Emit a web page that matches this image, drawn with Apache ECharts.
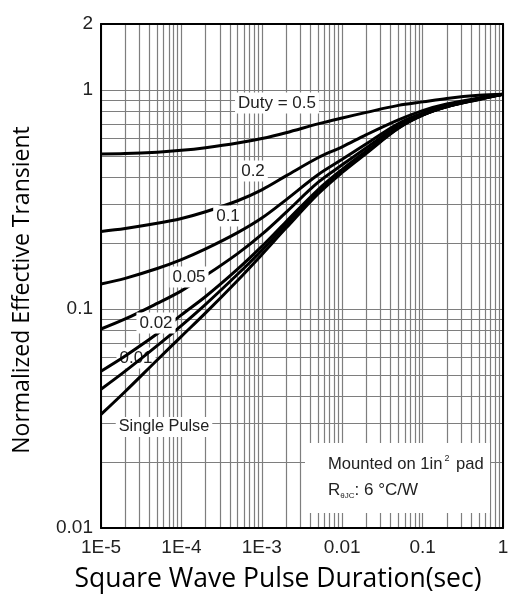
<!DOCTYPE html>
<html>
<head>
<meta charset="utf-8">
<script src="https://cdn.jsdelivr.net/npm/echarts@6/dist/echarts.min.js"></script>
<style>
  html, body { margin: 0; padding: 0; background: #fff; }
  #chart { width: 514px; height: 602px; }
</style>
</head>
<body>
<div id="chart"></div>
<script>
// pulse duration (sec)
var pulseTimes = [1e-5, 2e-5, 5e-5, 1e-4, 2e-4, 5e-4, 1e-3, 2e-3, 5e-3, 1e-2, 2e-2, 5e-2, 0.1, 0.2, 0.5, 1];

// normalized effective transient thermal impedance
var duty05 = [0.51, 0.512, 0.52, 0.53, 0.545, 0.572, 0.60, 0.638, 0.70, 0.745, 0.79, 0.85, 0.882, 0.915, 0.945, 0.955];
var duty02 = [0.226, 0.233, 0.246, 0.259, 0.278, 0.312, 0.35, 0.405, 0.49, 0.55, 0.625, 0.73, 0.805, 0.862, 0.92, 0.955];
var duty01 = [0.13, 0.138, 0.153, 0.168, 0.188, 0.223, 0.26, 0.315, 0.41, 0.482, 0.568, 0.703, 0.784, 0.847, 0.91, 0.955];
var duty005 = [0.081, 0.09, 0.106, 0.121, 0.142, 0.179, 0.219, 0.276, 0.378, 0.455, 0.545, 0.687, 0.772, 0.84, 0.905, 0.955];
var duty002 = [0.052, 0.061, 0.077, 0.094, 0.114, 0.152, 0.193, 0.25, 0.35, 0.434, 0.527, 0.676, 0.77, 0.838, 0.905, 0.955];
var duty001 = [0.043, 0.052, 0.068, 0.084, 0.105, 0.144, 0.185, 0.242, 0.342, 0.427, 0.52, 0.671, 0.768, 0.84, 0.91, 0.955];
var singlePulse = [0.033, 0.042, 0.0585, 0.075, 0.096, 0.135, 0.177, 0.234, 0.335, 0.42, 0.514, 0.668, 0.767, 0.84, 0.912, 0.955];

var xTickValues = [1e-5, 1e-4, 1e-3, 1e-2, 0.1, 1];
var xTickLabels = ['1E-5', '1E-4', '1E-3', '0.01', '0.1', '1'];
var yTickValues = [0.01, 0.1, 1, 2];
var yTickLabels = ['0.01', '0.1', '1', '2'];

// log grid lines: 1..9 in every decade
function logGrid(fromExp, toExp) {
    var out = [];
    for (var e = fromExp; e < toExp; e++) {
        for (var m = 1; m < 10; m++) {
            out.push(+(m * Math.pow(10, e)).toPrecision(3));
        }
    }
    out.push(Math.pow(10, toExp));
    return out;
}
var xGrid = logGrid(-5, 0);
var yGrid = logGrid(-2, 0);

var chart = echarts.init(document.getElementById('chart'));

var gridColor = '#7e7e7e';
var labelFont = '"Liberation Sans", Arial, sans-serif';

function curve(values) {
    return {
        type: 'line',
        data: pulseTimes.map(function (t, i) { return [t, values[i]]; }),
        showSymbol: false,
        smooth: 0.35,
        lineStyle: { color: '#000', width: 3 },
        z: 3
    };
}

function tag(text, x, y, size, z) {
    return {
        type: 'text',
        x: x,
        y: y,
        z: z || 10,
        style: {
            text: text,
            font: size + 'px ' + labelFont,
            fill: '#222',
            align: 'center',
            verticalAlign: 'middle',
            backgroundColor: '#fff',
            padding: [2, 3]
        }
    };
}

var option = {
    animation: false,
    backgroundColor: '#fff',
    grid: {
        left: 101,
        right: 11,
        top: 24,
        bottom: 74
    },
    xAxis: [{
        type: 'log',
        min: 1e-5,
        max: 1,
        name: 'Square Wave Pulse Duration(sec)',
        nameLocation: 'middle',
        nameGap: 38,
        nameTextStyle: {
            fontFamily: '"Open Sans", sans-serif',
            fontSize: 26.5,
            color: '#000',
            padding: [0, 48, 0, 0]
        },
        axisLine: { show: true, lineStyle: { color: '#000', width: 2 } },
        axisTick: { show: false, customValues: xGrid },
        axisLabel: {
            customValues: xTickValues,
            fontFamily: labelFont,
            fontSize: 19,
            color: '#222',
            margin: 10,
            formatter: function (v) {
                return xTickLabels[Math.round(Math.log10(v)) + 5];
            }
        },
        splitLine: { show: true, lineStyle: { color: gridColor, width: 1.2 } }
    }, {
        type: 'log',
        min: 1e-5,
        max: 1,
        position: 'top',
        axisLine: { show: true, onZero: false, lineStyle: { color: '#000', width: 2 } },
        axisTick: { show: false },
        axisLabel: { show: false },
        splitLine: { show: false }
    }],
    yAxis: [{
        type: 'log',
        min: 0.01,
        max: 2,
        name: 'Normalized Effective Transient',
        nameLocation: 'middle',
        nameGap: 67,
        nameTextStyle: {
            fontFamily: '"Open Sans", sans-serif',
            fontSize: 23,
            color: '#000',
            padding: [0, 28, 0, 0]
        },
        axisLine: { show: true, lineStyle: { color: '#000', width: 2 } },
        axisTick: { show: false, customValues: yGrid },
        axisLabel: {
            customValues: yTickValues,
            fontFamily: labelFont,
            fontSize: 19,
            color: '#222',
            margin: 8,
            formatter: function (v) {
                return yTickLabels[yTickValues.indexOf(v)] || '';
            }
        },
        splitLine: { show: true, lineStyle: { color: gridColor, width: 1.2 } }
    }, {
        type: 'log',
        min: 0.01,
        max: 2,
        position: 'right',
        axisLine: { show: true, onZero: false, lineStyle: { color: '#000', width: 2 } },
        axisTick: { show: false },
        axisLabel: { show: false },
        splitLine: { show: false }
    }],
    series: [
        curve(duty05),
        curve(duty02),
        curve(duty01),
        curve(duty005),
        curve(duty002),
        curve(duty001),
        curve(singlePulse)
    ],
    graphic: [
        {
            type: 'rect',
            z: 1,
            shape: { x: 305, y: 443, width: 185, height: 70 },
            style: { fill: '#fff' }
        },
        tag('Duty = 0.5', 277, 103, 17),
        tag('0.2', 253, 171, 17),
        tag('0.1', 228, 216, 17),
        tag('0.05', 189, 277, 17),
        tag('0.02', 156, 323, 17),
        tag('0.01', 136, 358, 17, 1),
        tag('Single Pulse', 164, 427, 16.3),
        {
            type: 'text',
            x: 328,
            y: 464,
            z: 10,
            style: {
                text: '{t|Mounted on 1in}{s|2}{t| pad}',
                verticalAlign: 'middle',
                rich: {
                    t: { font: '16.6px ' + labelFont, fill: '#222' },
                    s: { font: '9px ' + labelFont, fill: '#222', verticalAlign: 'top', padding: [0, 2, 10, 2] }
                }
            }
        },
        {
            type: 'text',
            x: 328,
            y: 490,
            z: 10,
            style: {
                text: '{t|R}{s|θJC}{t|: 6 °C/W}',
                verticalAlign: 'middle',
                rich: {
                    t: { font: '17px ' + labelFont, fill: '#222' },
                    s: { font: '8px ' + labelFont, fill: '#222', padding: [12, 0, 0, 0] }
                }
            }
        }
    ]
};

chart.setOption(option);
</script>
</body>
</html>
